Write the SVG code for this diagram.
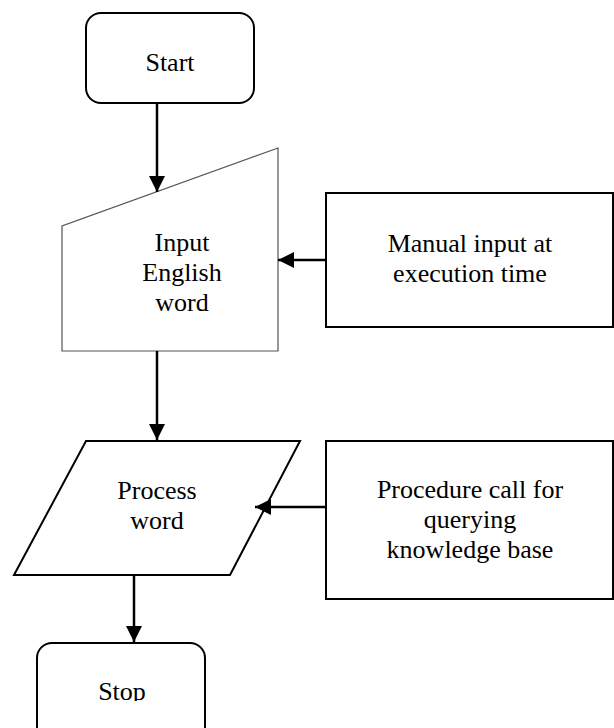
<svg xmlns="http://www.w3.org/2000/svg" width="614" height="728" viewBox="0 0 614 728">
<style>
text{font-family:'Liberation Serif','Times New Roman',Tinos,'DejaVu Serif',serif;font-size:26px;fill:#000;text-anchor:middle}
.box{fill:#fff;stroke:#000;stroke-width:2}
.thin{fill:#fff;stroke:#555;stroke-width:1.2}
.conn{stroke:#000;stroke-width:2.5;fill:none}
</style>
<defs>
<marker id="ah" viewBox="0 0 10 10" refX="10" refY="5" markerWidth="6.5" markerHeight="6.5" orient="auto" markerUnits="strokeWidth">
<path d="M0,0 L10,5 L0,10 Z" fill="#000"/>
</marker>
<clipPath id="stopclip"><rect x="0" y="600" width="300" height="101"/></clipPath>
</defs>
<rect width="614" height="728" fill="#fff"/>
<g id="start">
<rect class="box" x="86" y="13" width="168" height="90" rx="15"/>
<text x="170" y="71" font-family="Liberation Serif, serif">Start</text>
</g>
<g id="input">
<polygon class="thin" points="278,148 62,226 62,351 278,351"/>
<text x="182" y="251" font-family="Liberation Serif, serif">Input</text>
<text x="182" y="281" font-family="Liberation Serif, serif">English</text>
<text x="182" y="311" font-family="Liberation Serif, serif">word</text>
</g>
<g id="manual">
<rect class="box" x="326" y="193" width="287" height="134"/>
<text x="470" y="252" font-family="Liberation Serif, serif">Manual input at</text>
<text x="470" y="282" font-family="Liberation Serif, serif">execution time</text>
</g>
<g id="process">
<polygon class="box" points="86,441 300,441 230,575 14,575"/>
<text x="157" y="499" font-family="Liberation Serif, serif">Process</text>
<text x="157" y="529" font-family="Liberation Serif, serif">word</text>
</g>
<g id="procedure">
<rect class="box" x="326" y="441" width="287" height="158"/>
<text x="470" y="498" font-family="Liberation Serif, serif">Procedure call for</text>
<text x="470" y="528" font-family="Liberation Serif, serif">querying</text>
<text x="470" y="558" font-family="Liberation Serif, serif">knowledge base</text>
</g>
<g id="stop">
<rect class="box" x="37" y="643" width="168" height="100" rx="15"/>
<text x="122" y="700" font-family="Liberation Serif, serif" clip-path="url(#stopclip)">Stop</text>
</g>
<g id="connectors">
<line class="conn" x1="157" y1="103" x2="157" y2="192" marker-end="url(#ah)"/>
<line class="conn" x1="326" y1="260" x2="278" y2="260" marker-end="url(#ah)"/>
<line class="conn" x1="157" y1="351" x2="157" y2="440" marker-end="url(#ah)"/>
<line class="conn" x1="326" y1="507" x2="255" y2="507" marker-end="url(#ah)"/>
<line class="conn" x1="134" y1="575" x2="134" y2="642" marker-end="url(#ah)"/>
</g>
</svg>
